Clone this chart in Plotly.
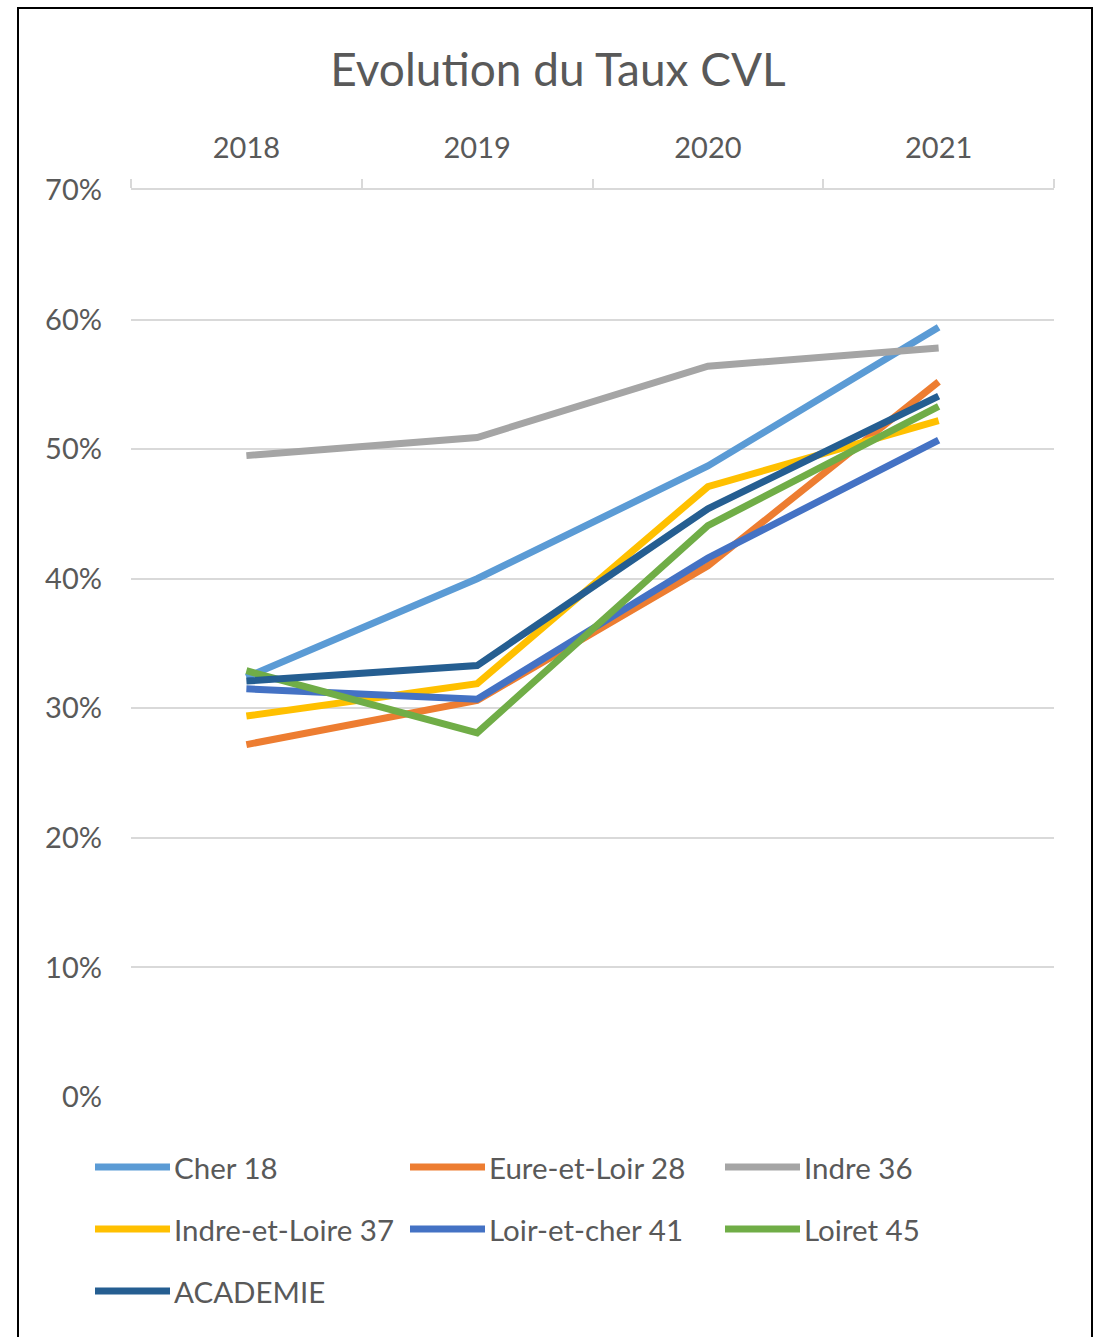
import plotly.graph_objects as go

years = ["2018", "2019", "2020", "2021"]
series_names = ["Cher 18", "Eure-et-Loir 28", "Indre 36", "Indre-et-Loire 37",
                "Loir-et-cher 41", "Loiret 45", "ACADEMIE"]
cher_18 = [0.324, 0.400, 0.487, 0.594]
eure_et_loir_28 = [0.272, 0.306, 0.410, 0.552]
indre_36 = [0.495, 0.509, 0.564, 0.578]
indre_et_loire_37 = [0.294, 0.319, 0.471, 0.522]
loir_et_cher_41 = [0.315, 0.307, 0.416, 0.507]
loiret_45 = [0.329, 0.281, 0.441, 0.533]
academie = [0.321, 0.333, 0.454, 0.541]
values = [cher_18, eure_et_loir_28, indre_36, indre_et_loire_37,
          loir_et_cher_41, loiret_45, academie]
colors = ["#5B9BD5", "#ED7D31", "#A5A5A5", "#FFC000", "#4472C4", "#70AD47", "#255E91"]
y_ticks = [0, 0.1, 0.2, 0.3, 0.4, 0.5, 0.6, 0.7]

W, H = 1094, 1337
L, R, T, B = 131, 1054, 190, 1097  # plot area in pixels
FONT = "Lato, Open Sans, sans-serif"
TXT = "#595959"

def px(x):
    return (x - L) / (R - L)

def py(y):
    return (B - y) / (B - T)

fig = go.Figure()
for name, vals, col in zip(series_names, values, colors):
    fig.add_trace(go.Scatter(x=years, y=vals, name=name, mode="lines",
                             line=dict(color=col, width=7), showlegend=False))

shapes = []
annotations = []
# manual legend (3 columns)
for i, (name, col) in enumerate(zip(series_names, colors)):
    r, c = divmod(i, 3)
    x0 = 95 + 315 * c
    yy = 1167 + 62 * r
    shapes.append(dict(type="line", xref="paper", yref="paper",
                       x0=px(x0), x1=px(x0 + 75), y0=py(yy), y1=py(yy),
                       line=dict(color=col, width=7)))
    annotations.append(dict(xref="paper", yref="paper", x=px(x0 + 77), y=py(yy),
                            xanchor="left", yanchor="middle", text=name, showarrow=False,
                            font=dict(family=FONT, size=29.5, color=TXT)))
# outer frame
shapes.append(dict(type="rect", xref="paper", yref="paper",
                   x0=px(18), x1=px(1092), y0=py(1345), y1=py(8),
                   line=dict(color="#000000", width=2), fillcolor="rgba(0,0,0,0)"))

fig.update_layout(
    width=W, height=H,
    margin=dict(l=L, r=W - R, t=T, b=H - B, pad=0),
    paper_bgcolor="white", plot_bgcolor="white",
    title=dict(text="Evolution du Taux CVL", x=558 / W, xanchor="center",
               y=1 - 70 / H, yanchor="middle",
               font=dict(family=FONT, size=46, color=TXT)),
    xaxis=dict(type="category", side="top", range=[-0.5, 3.5],
               showgrid=False, showline=True, linecolor="#D9D9D9", linewidth=2,
               ticks="outside", tickson="boundaries", ticklen=9, tickcolor="#D9D9D9",
               tickwidth=2, ticklabelstandoff=18,
               tickfont=dict(family=FONT, size=29, color=TXT)),
    yaxis=dict(range=[0, 0.7], tickvals=y_ticks, tickformat=".0%",
               showgrid=True, gridcolor="#D9D9D9", gridwidth=2,
               zeroline=False, showline=False, ticks="", ticklabelstandoff=28,
               tickfont=dict(family=FONT, size=29, color=TXT)),
    shapes=shapes, annotations=annotations, showlegend=False,
)

fig.write_html("out.html", config={"displayModeBar": False},
               post_script="document.body.style.margin='0';document.body.style.overflow='hidden';")
